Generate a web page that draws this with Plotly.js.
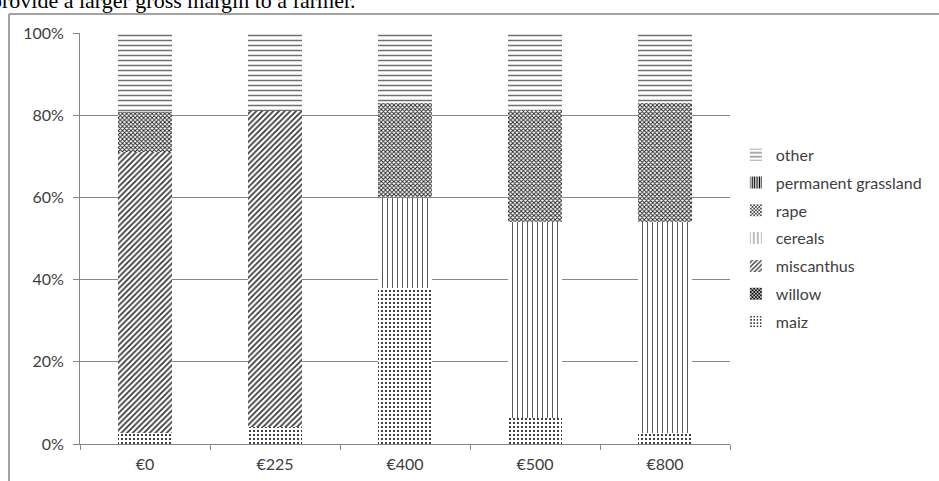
<!DOCTYPE html>
<html>
<head>
<meta charset="utf-8">
<script src="https://cdn.plot.ly/plotly-3.0.1.min.js"></script>
<style>html,body{margin:0;padding:0;background:#fff;}#chart{width:939px;height:481px;}</style>
</head>
<body>
<div id="chart"></div>
<script>
const categories = ["€0", "€225", "€400", "€500", "€800"];
const maiz = [2.7, 4.1, 38.0, 6.3, 2.7];
const willow = [0, 0, 0, 0, 0];
const miscanthus = [68.3, 76.9, 0, 0, 0];
const cereals = [0, 0, 21.9, 47.7, 51.3];
const rape = [9.8, 0, 23.1, 27.3, 29.0];
const permanentGrassland = [0, 0, 0, 0, 0];
const other = [19.2, 19.0, 17.0, 18.7, 17.0];
const yTicks = [0, 20, 40, 60, 80, 100];

function bar(name, values, shape, fg, size, solidity, rank) {
  return {
    type: "bar", name: name, x: categories, y: values, legendgroup: name, legendrank: rank,
    marker: {
      color: "#ffffff",
      line: {width: 0},
      pattern: {shape: shape, fgcolor: fg, bgcolor: "#ffffff", size: size, solidity: solidity, fillmode: "replace"}
    },
    hoverinfo: "skip"
  };
}

const data = [
  bar("maiz", maiz, ".", "#000000", 4, 0.2, 7),
  bar("willow", willow, "x", "#000000", 3, 0.6, 6),
  bar("miscanthus", miscanthus, "/", "#303030", 4, 0.4, 5),
  bar("cereals", cereals, "|", "#000000", 5, 0.13, 4),
  bar("rape", rape, "x", "#202020", 3, 0.5, 3),
  bar("permanent grassland", permanentGrassland, "|", "#000000", 3, 0.5, 2),
  bar("other", other, "-", "#707070", 5, 0.3, 1)
];

const layout = {
  width: 939, height: 481,
  margin: {l: 80, r: 209, t: 33, b: 37},
  paper_bgcolor: "#ffffff", plot_bgcolor: "#ffffff",
  font: {family: "Lato, 'Open Sans', sans-serif", size: 16, color: "#404040"},
  barmode: "stack",
  bargap: 0.59,
  showlegend: true,
  legend: {
    traceorder: "grouped",
    x: 1.009, xanchor: "left", y: 0.745, yanchor: "top",
    font: {size: 16, color: "#404040"},
    tracegroupgap: 4, itemwidth: 30,
    bgcolor: "rgba(0,0,0,0)"
  },
  xaxis: {
    type: "category",
    showline: true, linecolor: "#868686", linewidth: 1,
    ticks: "outside", tickson: "boundaries", ticklen: 5, tickcolor: "#868686",
    showgrid: false, zeroline: false, ticklabelstandoff: 6,
    tickfont: {size: 16, color: "#404040"}
  },
  yaxis: {
    range: [0, 100], tickvals: yTicks, ticktext: yTicks.map(v => v + "%"),
    showline: true, linecolor: "#868686", linewidth: 1,
    ticks: "outside", ticklen: 6, tickcolor: "#868686",
    showgrid: true, gridcolor: "#868686", gridwidth: 1, zeroline: false,
    ticklabelstandoff: 6,
    tickfont: {size: 16, color: "#404040"}
  },
  shapes: [
    {type: "line", xref: "paper", yref: "paper", x0: -0.1092, x1: 1.5, y0: 1.0462, y1: 1.0462, line: {color: "#858585", width: 1.5}},
    {type: "line", xref: "paper", yref: "paper", x0: -0.1092, x1: -0.1092, y0: 1.0462, y1: -0.2, line: {color: "#858585", width: 1.5}}
  ],
  annotations: [
    {text: "provide a larger gross margin to a farmer.", xref: "paper", yref: "paper", x: 0.4277, xanchor: "right",
     y: 1.0438, yanchor: "bottom", showarrow: false,
     font: {family: "'Liberation Serif', 'DejaVu Serif', serif", size: 22, color: "#000000"}}
  ]
};

Plotly.newPlot("chart", data, layout, {displayModeBar: false, staticPlot: true});
</script>
</body>
</html>
